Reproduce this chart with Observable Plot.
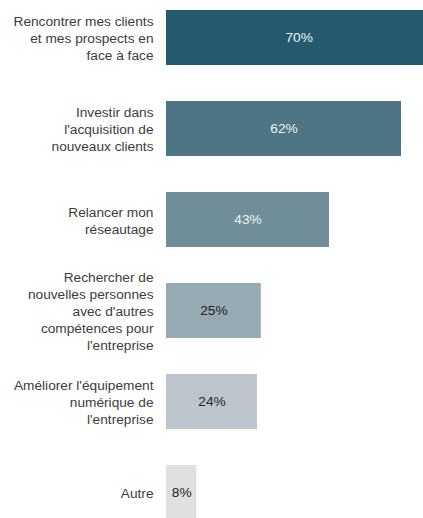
<!DOCTYPE html>
<html>
<head>
<meta charset="utf-8">
<script src="https://cdn.jsdelivr.net/npm/d3@7"></script>
<script src="https://cdn.jsdelivr.net/npm/@observablehq/plot@0.6"></script>
<style>
  html, body { margin: 0; padding: 0; background: #fff; overflow: hidden; }
  #chart svg { display: block; }
</style>
</head>
<body>
<div id="chart"></div>
<script>
const categories = [
  "Rencontrer mes clients\net mes prospects en\nface à face",
  "Investir dans\nl'acquisition de\nnouveaux clients",
  "Relancer mon\nréseautage",
  "Rechercher de\nnouvelles personnes\navec d'autres\ncompétences pour\nl'entreprise",
  "Améliorer l'équipement\nnumérique de\nl'entreprise",
  "Autre"
];
const values = [70, 62, 43, 25, 24, 8];

const barColors = ["#255a6e", "#4d7583", "#6f8e9a", "#95aab2", "#bcc5cb", "#e0e0e0"];
const valueTextColors = ["#eef3f5", "#eef3f5", "#eef3f5", "#222222", "#222222", "#222222"];

const data = categories.map((c, i) => ({category: c, value: values[i], i}));

const chart = Plot.plot({
  width: 423,
  height: 518,
  marginLeft: 166,
  marginRight: 0,
  marginTop: 0,
  marginBottom: 0,
  style: {fontFamily: "Liberation Sans, Arial, sans-serif", background: "#fff"},
  x: {domain: [0, 67.8], axis: null},
  y: {domain: categories, range: [-8.7, 537.3], paddingInner: 0.4, paddingOuter: 0.2, axis: null},
  color: {domain: categories, range: barColors},
  marks: [
    Plot.barX(data, {x: "value", y: "category", fill: "category", clip: true}),
    Plot.text(data, {
      x: d => d.value / 2, y: "category", text: d => d.value + "%",
      fill: d => valueTextColors[d.i], fontSize: 13.7
    }),
    Plot.text(data, {
      x: 0, y: "category", text: "category", dx: -13, textAnchor: "end",
      lineHeight: 1.24, fill: "#3c3c3c", fontSize: 13.7
    })
  ]
});
document.getElementById("chart").append(chart);
</script>
</body>
</html>
